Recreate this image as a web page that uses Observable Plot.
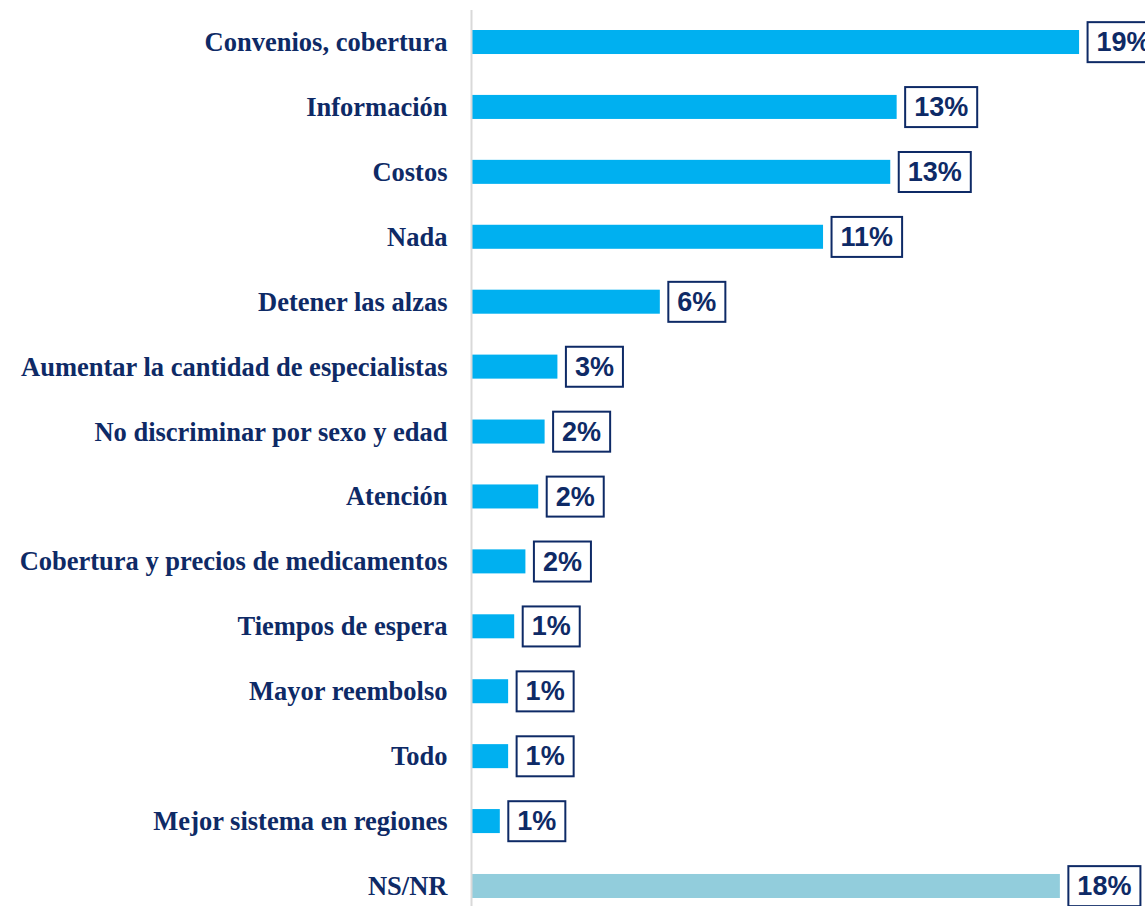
<!DOCTYPE html>
<html>
<head>
<meta charset="utf-8">
<script src="https://cdn.jsdelivr.net/npm/d3@7"></script>
<script src="https://cdn.jsdelivr.net/npm/@observablehq/plot@0.6"></script>
<style>
  html, body { margin: 0; padding: 0; background: #fff; }
  #chart svg { display: block; }
</style>
</head>
<body>
<div id="chart"></div>
<script>
const categories = [
  "Convenios, cobertura",
  "Información",
  "Costos",
  "Nada",
  "Detener las alzas",
  "Aumentar la cantidad de especialistas",
  "No discriminar por sexo y edad",
  "Atención",
  "Cobertura y precios de medicamentos",
  "Tiempos de espera",
  "Mayor reembolso",
  "Todo",
  "Mejor sistema en regiones",
  "NS/NR"
];
const values = [19.0, 13.3, 13.1, 11.0, 5.9, 2.7, 2.3, 2.1, 1.7, 1.35, 1.16, 1.16, 0.9, 18.4];
const labels = ["19%", "13%", "13%", "11%", "6%", "3%", "2%", "2%", "2%", "1%", "1%", "1%", "1%", "18%"];
const groups = ["main","main","main","main","main","main","main","main","main","main","main","main","main","nsnr"];

const data = categories.map((c, i) => ({cat: c, value: values[i], label: labels[i], group: groups[i]}));

const navy = "#0E2A66";

const chart = Plot.plot({
  width: 1145,
  height: 906,
  marginLeft: 471,
  marginRight: 0,
  marginTop: 10,
  marginBottom: 0,
  x: {domain: [0, 21.06], axis: null},
  y: {domain: categories, range: [30, 898], paddingInner: 0.63, paddingOuter: 0, round: false, axis: null, label: null},
  color: {domain: ["main", "nsnr"], range: ["#00B0F0", "#92CDDC"]},
  marks: [
    Plot.barX(data, {x: "value", y: "cat", fill: "group"}),
    Plot.ruleX([0], {stroke: "#D9D9D9", strokeWidth: 2}),
    Plot.axisY({
      tickSize: 0,
      tickPadding: 24,
      label: null,
      fontSize: 26.5,
      fontWeight: "bold",
      fontFamily: "'Liberation Serif', 'Times New Roman', serif",
      color: navy,
      fill: navy
    }),
    Plot.text(data, {
      x: "value", y: "cat", text: "label",
      dx: 17, textAnchor: "start",
      fontSize: 27, fontWeight: "bold",
      fontFamily: "'Liberation Sans', Arial, sans-serif",
      fill: navy
    })
  ]
});

document.getElementById("chart").appendChild(chart);

// draw boxes behind value labels
const valueTexts = Array.from(chart.querySelectorAll("text")).filter(t => /%$/.test(t.textContent.trim()));
valueTexts.forEach((t) => {
  const bb = t.getBBox();
  const rect = document.createElementNS("http://www.w3.org/2000/svg", "rect");
  const tr = t.getAttribute("transform");
  rect.setAttribute("x", bb.x - 9);
  rect.setAttribute("y", bb.y + bb.height / 2 - 20);
  rect.setAttribute("width", bb.width + 18);
  rect.setAttribute("height", 40);
  if (tr) rect.setAttribute("transform", tr);
  rect.setAttribute("fill", "#fff");
  rect.setAttribute("stroke", navy);
  rect.setAttribute("stroke-width", 2);
  t.parentNode.insertBefore(rect, t);
});
</script>
</body>
</html>
